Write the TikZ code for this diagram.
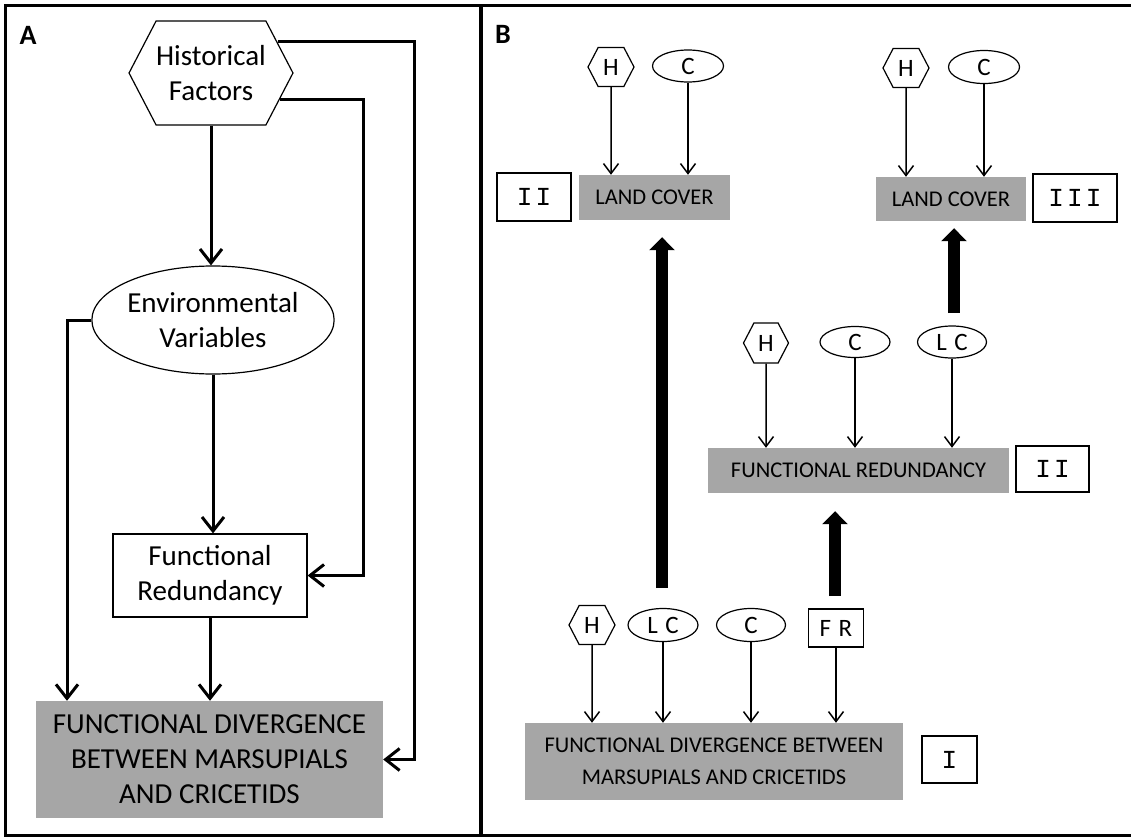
\documentclass[tikz,border=0pt]{standalone}
\usepackage{fontspec}
\setmainfont{Carlito}
\newfontfamily\romfont[LetterSpace=12]{Liberation Mono}
\usetikzlibrary{arrows.meta,shapes.geometric,shapes.symbols}
\tikzset{
  txtA/.style={font=\fontsize{29}{35}\selectfont, align=center},
  txtB/.style={font=\fontsize{22.5}{32}\selectfont, align=center},
  txtS/.style={font=\fontsize{25}{28}\selectfont},
  hexa/.style={draw, line width=1.2pt, signal, signal to=east and west,
    signal pointer angle=125, inner sep=0pt},
  oval/.style={draw, line width=1.2pt, ellipse, inner sep=0pt},
  whitebox/.style={draw, line width=1.2pt, inner sep=0pt},
  graybox/.style={fill=gray!70, inner sep=0pt},
  romanbox/.style={draw, line width=1.2pt, inner sep=0pt,
    font=\romfont\fontsize{26}{26}\selectfont},
  arrA/.style={line width=3pt, -{Straight Barb[length=14pt,width=22pt]}},
  arrB/.style={line width=1.5pt, -{Straight Barb[length=10pt,width=15pt]}},
  bigarr/.style={line width=12pt, -{Triangle[length=13pt,width=25pt]}}
}
\begin{document}
\begin{tikzpicture}[x=1pt,y=-1pt]
\useasboundingbox (0,0) rectangle (1131,837);
\draw[line width=3pt] (1131,5.5) -- (5.5,5.5) -- (5.5,835.5) -- (1131,835.5);
\draw[line width=3.5pt] (481,5.5) -- (481,835.5);
\node[font=\bfseries\fontsize{28}{28}\selectfont] (labA) at (28,35) {A};
\node[font=\bfseries\fontsize{28}{28}\selectfont] (labB) at (503,34) {B};

% panel A
\node[hexa, txtA, minimum width=152pt, minimum height=104pt] (hexF) at (211,73) {Historical\\Factors};
\node[oval, txtA, minimum width=240pt, minimum height=108pt] (envV) at (213,320) {Environmental\\Variables};
\node[whitebox, txtA, minimum width=194pt, minimum height=83pt] (funcR) at (210,575.5) {Functional\\Redundancy};
\node[graybox, txtA, minimum width=347pt, minimum height=117pt] (fdivA) at (209.5,759.5) {FUNCTIONAL DIVERGENCE\\BETWEEN MARSUPIALS\\AND CRICETIDS};
\coordinate (leftA) at (67,320);
\coordinate (midA) at (363,0);
\coordinate (rightA) at (414,0);

\draw[arrA] (hexF.south) -- (hexF.south |- envV.north);
\draw[arrA] (envV.west) -- (leftA) -- (leftA |- fdivA.north);
\draw[arrA] (envV.south) -- (envV.south |- funcR.north);
\draw[arrA] (funcR.south) -- (funcR.south |- fdivA.north);
\draw[arrA] (hexF.25) -| (rightA |- fdivA.east) -- (fdivA.east);
\draw[arrA] (hexF.-21) -| (midA |- funcR.east) -- (funcR.east);

% panel B, top
\node[graybox, txtB, minimum width=151pt, minimum height=45pt] (lcA) at (654.5,197.5) {LAND COVER};
\node[romanbox, minimum width=74pt, minimum height=48pt] (iiA) at (534,197) {II};
\node[hexa, txtS, minimum width=46pt, minimum height=39pt] (hA) at (611,67) {H};
\node[oval, txtS, minimum width=71pt, minimum height=32pt] (cA) at (688,66) {C};
\draw[arrB] (hA) -- (hA |- lcA.north);
\draw[arrB] (cA) -- (cA |- lcA.north);

\node[graybox, txtB, minimum width=150pt, minimum height=44pt] (lcB) at (951,199) {LAND COVER};
\node[romanbox, minimum width=84pt, minimum height=48pt] (iiiB) at (1075,198) {III};
\node[hexa, txtS, minimum width=46pt, minimum height=39pt] (hB) at (906,68) {H};
\node[oval, txtS, minimum width=71pt, minimum height=33pt] (cB) at (984,67) {C};
\draw[arrB] (hB) -- (hB |- lcB.north);
\draw[arrB] (cB) -- (cB |- lcB.north);

% panel B, middle
\node[graybox, txtB, minimum width=301pt, minimum height=45pt] (frM) at (858.5,470.5) {FUNCTIONAL REDUNDANCY};
\node[romanbox, minimum width=73pt, minimum height=46pt] (iiM) at (1052.5,469) {II};
\node[hexa, txtS, minimum width=45pt, minimum height=40pt] (hM) at (766,343) {H};
\node[oval, txtS, minimum width=70pt, minimum height=31pt] (cM) at (855,342) {C};
\node[oval, txtS, minimum width=69pt, minimum height=32pt] (lcM) at (952,342) {L\hspace{.3em}C};
\draw[arrB] (hM) -- (hM |- frM.north);
\draw[arrB] (cM) -- (cM |- frM.north);
\draw[arrB] (lcM) -- (lcM |- frM.north);

% panel B, bottom
\node[graybox, txtB, minimum width=378pt, minimum height=77pt] (fdivB) at (714,761.5) {FUNCTIONAL DIVERGENCE BETWEEN\\MARSUPIALS AND CRICETIDS};
\node[romanbox, minimum width=55pt, minimum height=47pt] (iB) at (949.5,759.5) {I};
\node[hexa, txtS, minimum width=46pt, minimum height=39pt] (hD) at (592,625) {H};
\node[oval, txtS, minimum width=70pt, minimum height=33pt] (lcD) at (663,625) {L\hspace{.3em}C};
\node[oval, txtS, minimum width=69pt, minimum height=33pt] (cD) at (751,625) {C};
\node[whitebox, txtS, minimum width=55pt, minimum height=38pt] (frD) at (836,628) {F\hspace{.3em}R};
\draw[arrB] (hD) -- (hD |- fdivB.north);
\draw[arrB] (lcD) -- (lcD |- fdivB.north);
\draw[arrB] (cD) -- (cD |- fdivB.north);
\draw[arrB] (frD) -- (frD |- fdivB.north);

\coordinate (baseA) at (662,588);
\coordinate (baseM) at (835,596);
\coordinate (baseB) at (954,313);
\draw[bigarr, shorten >=17pt] (baseA) -- (baseA |- lcA.south);
\draw[bigarr, shorten >=18pt] (baseM) -- (baseM |- frM.south);
\draw[bigarr, shorten >=7pt] (baseB) -- (baseB |- lcB.south);
\end{tikzpicture}
\end{document}
